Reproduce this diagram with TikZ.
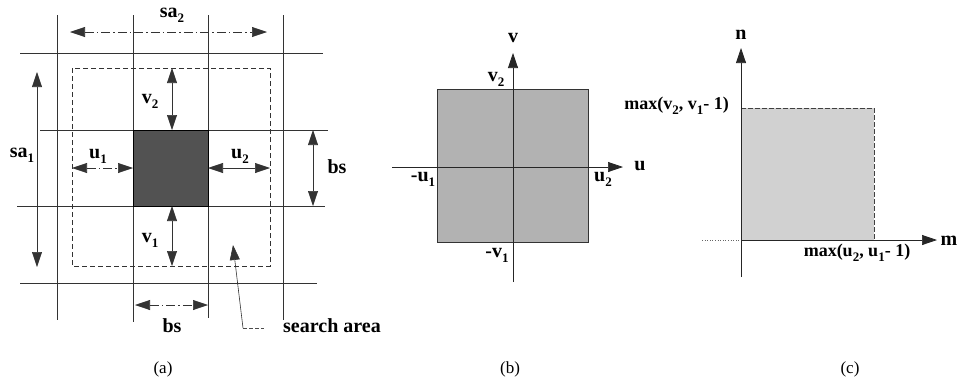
\documentclass[tikz,border=0pt]{standalone}
\usepackage{fontspec}
\setmainfont{Liberation Serif}
\usetikzlibrary{arrows.meta}
\newcommand{\lsub}[1]{\raisebox{-5pt}{\fontsize{13}{13}\selectfont #1}}
\begin{document}
\begin{tikzpicture}[x=1pt,y=-1pt,
  gridline/.style={line width=0.6pt, draw=black!80},
  dimarrow/.style={line width=0.6pt, draw=black!80, {Triangle[length=15pt,width=10pt]}-{Triangle[length=15pt,width=10pt]}},
  dashdim/.style={dimarrow, dash pattern=on 9pt off 3pt on 1.5pt off 3pt},
  axis/.style={line width=0.7pt, draw=black!85, -{Triangle[length=15pt,width=10pt]}},
  lab/.style={font=\fontsize{20}{20}\selectfont\bfseries, inner sep=0pt},
  labc/.style={font=\fontsize{18}{18}\selectfont\bfseries, inner sep=0pt},
  captext/.style={font=\fontsize{17}{17}\selectfont, inner sep=0pt}]
\useasboundingbox (0,0) rectangle (958,384);

% ---------------- panel (a) ----------------
\draw[gridline] (57,15) -- (57,320);
\draw[gridline] (133,15) -- (133,322);
\draw[gridline] (208,15) -- (208,318);
\draw[gridline] (283,15) -- (283,320);
\draw[gridline] (20,53) -- (323,53);
\draw[gridline] (40,130) -- (328,130);
\draw[gridline] (17,206) -- (325,206);
\draw[gridline] (20,283) -- (317,283);

\draw[line width=0.6pt, black!80, dash pattern=on 5pt off 3pt] (72,68) rectangle (270,266);
\fill[black!68] (133,130) rectangle (208,206);
\draw[line width=0.6pt] (133,130) rectangle (208,206);

\coordinate (sa2l) at (70,32);  \coordinate (sa2r) at (267,32);
\coordinate (sa1t) at (37,72);  \coordinate (sa1b) at (37,267);
\coordinate (v2t) at (172,68);  \coordinate (v2b) at (172,130);
\coordinate (v1t) at (172,206); \coordinate (v1b) at (172,266);
\coordinate (u1l) at (72,168);  \coordinate (u1r) at (133,168);
\coordinate (u2l) at (208,168); \coordinate (u2r) at (270,168);
\coordinate (bsrt) at (313,130); \coordinate (bsrb) at (313,206);
\coordinate (bsbl) at (135,305); \coordinate (bsbr) at (208,305);

\draw[dashdim] (sa2l) -- (sa2r);
\draw[dimarrow] (sa1t) -- (sa1b);
\draw[dimarrow] (v2t) -- (v2b);
\draw[dimarrow] (v1t) -- (v1b);
\draw[dashdim] (u1l) -- (u1r);
\draw[dimarrow] (u2l) -- (u2r);
\draw[dimarrow] (bsrt) -- (bsrb);
\draw[dashdim] (bsbl) -- (bsbr);

\node[lab] (sa2) at (172,15) {sa\lsub{2}};
\node[lab] (sa1) at (22,155) {sa\lsub{1}};
\node[lab] (v2) at (150,101) {v\lsub{2}};
\node[lab] (v1) at (150,240) {v\lsub{1}};
\node[lab] (u1) at (98,156) {u\lsub{1}};
\node[lab] (u2) at (240,156) {u\lsub{2}};
\node[lab] (bsr) at (337,167) {bs};
\node[lab] (bsb) at (172,326) {bs};

\node[lab, anchor=west] (search) at (283,326) {search area};
\coordinate (sp) at (233,245);
\coordinate (sk) at (243,328);
\coordinate (st) at (264,328);
\draw[line width=0.6pt, black!80, -{Triangle[length=15pt,width=10pt]}] (sk) -- (sp);
\draw[line width=0.6pt, black!70, dash pattern=on 4pt off 2pt] (sk) -- (st);

% ---------------- panel (b) ----------------
\fill[black!30] (437,89) rectangle (588,242);
\draw[line width=0.6pt, black!80] (437,89) rectangle (588,242);
\coordinate (vb0) at (513,282); \coordinate (vb1) at (513,53);
\coordinate (ub0) at (392,167); \coordinate (ub1) at (623,167);
\draw[axis] (vb0) -- (vb1);
\draw[axis] (ub0) -- (ub1);
\node[lab] (vlab) at (513,38) {v};
\node[lab] (ulab) at (640,166) {u};
\node[lab] (v2b) at (496,79) {v\lsub{2}};
\node[lab] (mv1) at (497,255) {-v\lsub{1}};
\node[lab] (mu1) at (423,179) {-u\lsub{1}};
\node[lab] (u2b) at (603,179) {u\lsub{2}};

% ---------------- panel (c) ----------------
\fill[black!18] (741,108) rectangle (874,240);
\draw[line width=0.6pt, black!75, dash pattern=on 5pt off 2pt] (741,108) -- (874,108) -- (874,240);
\coordinate (nc0) at (741,277); \coordinate (nc1) at (741,48);
\coordinate (mc0) at (741,240); \coordinate (mc1) at (937,240);
\coordinate (mcd) at (702,240);
\draw[axis] (nc0) -- (nc1);
\draw[axis] (mc0) -- (mc1);
\draw[line width=0.6pt, black!60, dotted] (mcd) -- (mc0);
\node[lab] (nlab) at (741,35) {n};
\node[lab] (mlab) at (949,241) {m};
\node[labc] (maxu) at (857,253) {max(u\lsub{2}, u\lsub{1}- 1)};
\node[labc, anchor=east] (maxv) at (729,106) {max(v\lsub{2}, v\lsub{1}- 1)};

% captions
\node[captext] (ca) at (163,369) {(a)};
\node[captext] (cb) at (510,369) {(b)};
\node[captext] (cc) at (850,369) {(c)};
\end{tikzpicture}
\end{document}
